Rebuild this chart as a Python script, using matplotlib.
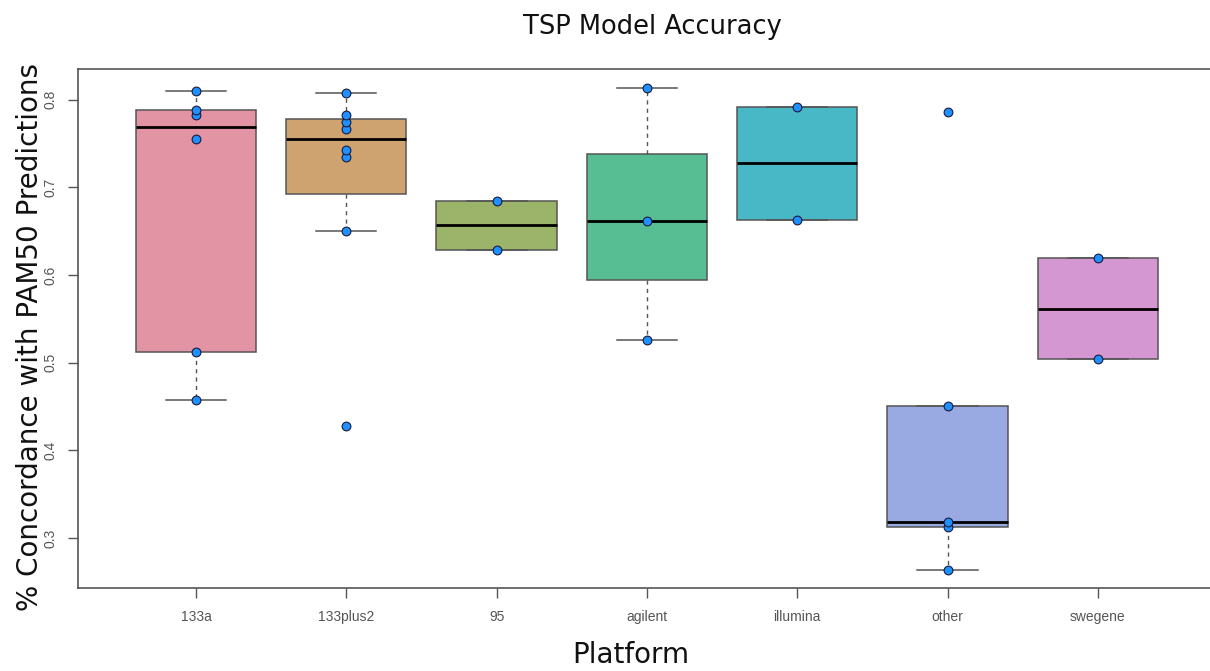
import numpy as np
import matplotlib
matplotlib.use("Agg")
import matplotlib.pyplot as plt

platforms = ["133a", "133plus2", "95", "agilent", "illumina", "other", "swegene"]

acc_133a = [0.4575, 0.512, 0.755, 0.782, 0.788, 0.810]
acc_133plus2 = [0.428, 0.650, 0.735, 0.743, 0.7665, 0.774, 0.782, 0.808]
acc_95 = [0.629, 0.684]
acc_agilent = [0.526, 0.662, 0.813]
acc_illumina = [0.663, 0.792]
acc_other = [0.2635, 0.313, 0.3186, 0.4507, 0.786]
acc_swegene = [0.504, 0.619]

groups = [acc_133a, acc_133plus2, acc_95, acc_agilent, acc_illumina, acc_other, acc_swegene]
colors = ["#E293A4", "#CFA36F", "#9CB36A", "#57BE94", "#48B8C7", "#99AAE2", "#D597D1"]


def fivenum_stats(vals):
    # R style boxplot stats (Tukey hinges, 1.5*IQR whiskers)
    x = np.sort(np.asarray(vals, dtype=float))
    n = len(x)
    n4 = np.floor((n + 3) / 2) / 2
    d = np.array([1, n4, (n + 1) / 2, n + 1 - n4, n]) - 1
    f = 0.5 * (x[np.floor(d).astype(int)] + x[np.ceil(d).astype(int)])
    lo, q1, med, q3, hi = f
    iqr = q3 - q1
    inside = x[(x >= q1 - 1.5 * iqr) & (x <= q3 + 1.5 * iqr)]
    fliers = x[(x < q1 - 1.5 * iqr) | (x > q3 + 1.5 * iqr)]
    return dict(med=med, q1=q1, q3=q3, whislo=inside.min(), whishi=inside.max(), fliers=fliers)


stats = [fivenum_stats(g) for g in groups]
pos = np.arange(1, len(platforms) + 1)

fig = plt.figure(figsize=(12.1, 6.71), dpi=100)
ax = fig.add_axes([78 / 1210, 83 / 671, 1 - 78 / 1210, 519 / 671])

edge = "#555555"
bp = ax.bxp(stats, positions=pos, widths=0.8, patch_artist=True, showfliers=False,
            boxprops=dict(edgecolor=edge, linewidth=1.1),
            medianprops=dict(color="black", linewidth=2.0),
            whiskerprops=dict(color=edge, linewidth=1.0, linestyle=(0, (3, 3))),
            capprops=dict(color=edge, linewidth=1.1), capwidths=0.4)
for patch, c in zip(bp["boxes"], colors):
    patch.set_facecolor(c)

for p, g in zip(pos, groups):
    ax.plot(np.full(len(g), p), g, "o", color="#1E90FF", markeredgecolor="#1a1a3a",
            markeredgewidth=0.8, markersize=6.3, zorder=5)

ax.set_xlim(1 - 118 / 150.3, 1 + (1210 - 196) / 150.3)
ax.set_ylim(0.243, 0.835)
ax.set_xticks(pos)
ax.set_xticklabels(platforms, family="Liberation Sans")
ax.set_yticks([0.3, 0.4, 0.5, 0.6, 0.7, 0.8])
ax.set_yticklabels(["0.3", "0.4", "0.5", "0.6", "0.7", "0.8"], rotation=90, va="center",
                   family="Liberation Sans")
ax.tick_params(axis="both", colors=edge, labelcolor="#555555", labelsize=10, length=7, width=1.0)
ax.tick_params(axis="x", pad=9)
ax.tick_params(axis="y", pad=8)

ax.spines["right"].set_visible(False)
for s in ["top", "left", "bottom"]:
    ax.spines[s].set_color(edge)
    ax.spines[s].set_linewidth(1.2)

fig.text(652 / 1210, 1 - 27 / 671, "TSP Model Accuracy", ha="center", va="center",
         fontsize=18.5, color="#111111")
fig.text(631 / 1210, 1 - 655 / 671, "Platform", ha="center", va="center",
         fontsize=20, color="#111111")
fig.text(30 / 1210, 1 - 337 / 671, "% Concordance with PAM50 Predictions", ha="center",
         va="center", rotation=90, fontsize=20, color="#111111")

fig.savefig("out.png", dpi=100)
